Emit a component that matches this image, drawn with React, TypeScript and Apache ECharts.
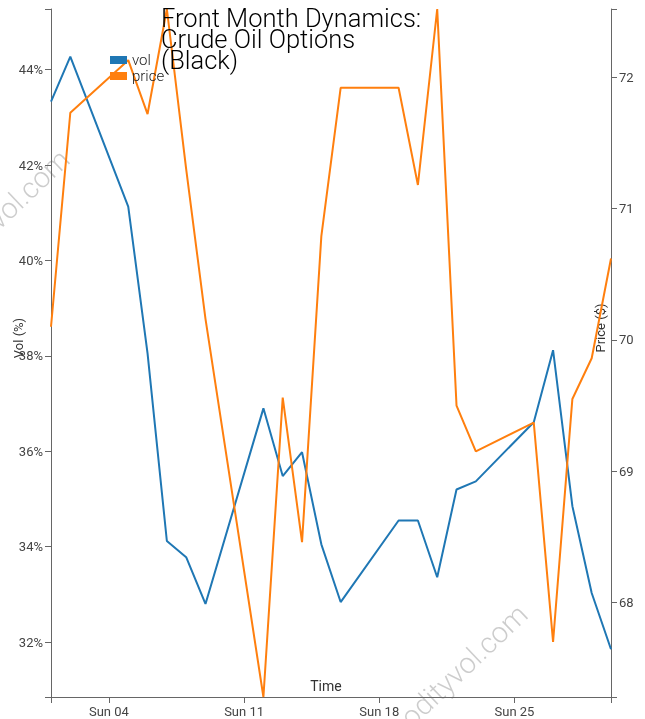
import React, { useEffect, useRef } from "react";
import * as echarts from "echarts";

// Trading days of the month (January 2015)
const tradingDays = [1, 2, 5, 6, 7, 8, 9, 12, 13, 14, 15, 16, 19, 20, 21, 22, 23, 26, 27, 28, 29, 30];
// Front-month implied vol (%)
const volValues = [43.33, 44.27, 41.13, 38.05, 34.12, 33.78, 32.8, 36.9, 35.48, 35.98, 34.05, 32.84, 34.55, 34.55, 33.36, 35.2, 35.37, 36.61, 38.12, 34.85, 33.03, 31.85];
// Front-month price ($)
const priceValues = [70.1, 71.73, 72.13, 71.72, 72.52, 71.3, 70.16, 67.28, 69.56, 68.46, 70.79, 71.92, 71.92, 71.18, 72.52, 69.5, 69.15, 69.37, 67.7, 69.55, 69.86, 70.62];
// Tick labels
const sundayTicks = [4, 11, 18, 25];
const volTicks = [32, 34, 36, 38, 40, 42, 44];
const priceTicks = [68, 69, 70, 71, 72];

const YEAR = 2015;
const MONTH = 0;
const ts = (d: number) => Date.UTC(YEAR, MONTH, d);
const DAY_NAMES = ["Sun", "Mon", "Tue", "Wed", "Thu", "Fri", "Sat"];

export default function App() {
  const ref = useRef<HTMLDivElement>(null);
  useEffect(() => {
    if (!ref.current) return;
    const chart = echarts.init(ref.current, undefined, { renderer: "svg" });
    const xs = tradingDays.map(ts);
    const xMin = Math.min(...xs);
    const xMax = Math.max(...xs);
    const vMin = Math.min(...volValues) - 1;
    const vMax = Math.max(...volValues) + 1;
    const pMin = Math.min(...priceValues);
    const pMax = Math.max(...priceValues);
    const axisColor = "#666";
    const labelColor = "#444";
    const font = "Roboto";
    const watermark = { text: "commodityvol.com", fontFamily: font, fontWeight: 300, fontSize: 29, fill: "rgba(0,0,0,0.2)", align: "center", verticalAlign: "middle" };
    chart.setOption({
      animation: false,
      title: {
        text: "Front Month Dynamics:\nCrude Oil Options\n(Black)",
        left: 161,
        top: 7,
        padding: 0,
        textStyle: { fontFamily: font, fontWeight: 300, fontSize: 25.5, lineHeight: 21, color: "#000" },
      },
      legend: {
        orient: "vertical",
        left: 110,
        top: 52,
        padding: 0,
        itemGap: 0,
        itemWidth: 17,
        itemHeight: 8,
        icon: "rect",
        textStyle: { fontFamily: font, fontWeight: 300, fontSize: 15, lineHeight: 16, color: "#222" },
        data: ["vol", "price"],
      },
      grid: { left: 51, right: 34, top: 9, bottom: 22, containLabel: false },
      xAxis: {
        type: "value",
        min: xMin,
        max: xMax,
        axisLine: { lineStyle: { color: axisColor, width: 1 } },
        axisTick: { show: true, length: 6, lineStyle: { color: axisColor }, customValues: [xMin, ...sundayTicks.map(ts), xMax] },
        axisLabel: {
          customValues: sundayTicks.map(ts),
          margin: 8,
          fontFamily: font,
          fontSize: 13,
          color: labelColor,
          formatter: (v: number) => {
            const d = new Date(v);
            return `${DAY_NAMES[d.getUTCDay()]} ${String(d.getUTCDate()).padStart(2, "0")}`;
          },
        },
        splitLine: { show: false },
      },
      yAxis: [
        {
          type: "value",
          min: vMin,
          max: vMax,
          position: "left",
          axisLine: { show: true, lineStyle: { color: axisColor } },
          axisTick: { show: true, length: 6, lineStyle: { color: axisColor }, customValues: [vMin, ...volTicks, vMax] },
          axisLabel: { customValues: volTicks, margin: 8, fontFamily: font, fontSize: 13, color: labelColor, formatter: (v: number) => `${v}%` },
          splitLine: { show: false },
        },
        {
          type: "value",
          min: pMin,
          max: pMax,
          position: "right",
          axisLine: { show: true, lineStyle: { color: axisColor } },
          axisTick: { show: true, length: 6, lineStyle: { color: axisColor }, customValues: [pMin, ...priceTicks, pMax] },
          axisLabel: { customValues: priceTicks, margin: 8, fontFamily: font, fontSize: 13, color: labelColor },
          splitLine: { show: false },
        },
      ],
      graphic: [
        {
          type: "text",
          x: 18,
          y: 338,
          rotation: Math.PI / 2,
          style: { text: "Vol (%)", fontFamily: font, fontSize: 13, fill: "#333", align: "center", verticalAlign: "middle" },
        },
        {
          type: "text",
          x: 600,
          y: 328,
          rotation: Math.PI / 2,
          style: { text: "Price ($)", fontFamily: font, fontSize: 13, fill: "#333", align: "center", verticalAlign: "middle" },
        },
        {
          type: "text",
          x: 326,
          y: 686,
          style: { text: "Time", fontFamily: font, fontSize: 14, fill: "#333", align: "center", verticalAlign: "middle" },
        },
        { type: "text", x: 434, y: 694, rotation: 0.76, silent: true, style: watermark },
        { type: "text", x: -24, y: 239, rotation: 0.76, silent: true, style: watermark },
      ],
      series: [
        {
          name: "vol",
          type: "line",
          yAxisIndex: 0,
          showSymbol: false,
          color: "#1f77b4",
          lineStyle: { width: 2, color: "#1f77b4" },
          data: xs.map((x, i) => [x, volValues[i]]),
        },
        {
          name: "price",
          type: "line",
          yAxisIndex: 1,
          showSymbol: false,
          color: "#ff7f0e",
          lineStyle: { width: 2, color: "#ff7f0e" },
          data: xs.map((x, i) => [x, priceValues[i]]),
        },
      ],
    });
    return () => chart.dispose();
  }, []);
  return <div ref={ref} style={{ position: "fixed", left: 0, top: 0, width: 645, height: 719 }} />;
}
